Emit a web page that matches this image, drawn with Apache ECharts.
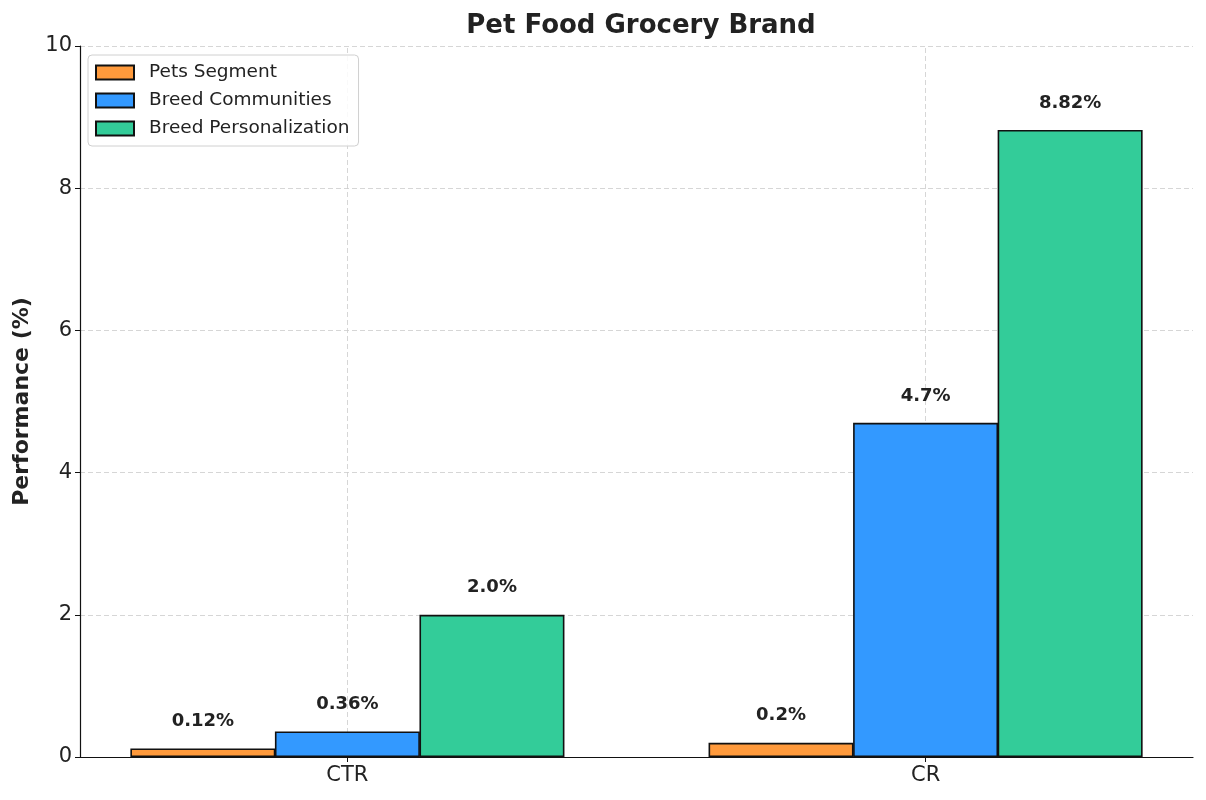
<!DOCTYPE html>
<html>
<head>
<meta charset="utf-8">
<script src="https://cdn.jsdelivr.net/npm/echarts@6/dist/echarts.min.js"></script>
<style>html,body{margin:0;padding:0;background:#fff}#c{width:1206px;height:800px}</style>
</head>
<body>
<div id="c"></div>
<script>
const categories = ['CTR', 'CR'];
const seriesNames = ['Pets Segment', 'Breed Communities', 'Breed Personalization'];
const petsSegment = [0.12, 0.2];
const breedCommunities = [0.36, 4.7];
const breedPersonalization = [2.0, 8.82];
const yTicks = [0, 2, 4, 6, 8, 10];
const colors = ['#FF9A3C', '#3399FF', '#33CC99'];

const allValues = [petsSegment, breedCommunities, breedPersonalization];
const barSlot = 0.25;
const catIdx = categories.map((c, i) => i);
const font = 'DejaVu Sans';
const fmt = v => (Number.isInteger(v) ? v.toFixed(1) : String(v)) + '%';

const series = allValues.map((vals, s) => ({
  name: seriesNames[s],
  type: 'bar',
  barWidth: 145,
  barGap: '-100%',
  data: vals.map((v, i) => [i + (s - 1) * barSlot, v]),
  itemStyle: { color: colors[s], borderColor: '#111', borderWidth: 1.6 },
  label: {
    show: true, position: 'top', distance: 18,
    formatter: p => fmt(p.value[1]),
    fontFamily: font, fontWeight: 'bold', fontSize: 18, color: '#222'
  },
  z: 3
}));
series.push({
  type: 'line', data: [], silent: true, z: 1,
  markLine: {
    silent: true, symbol: 'none', label: { show: false }, z: 1,
    lineStyle: { color: '#cccccc', type: [5, 3], width: 0.8 },
    data: catIdx.map(i => ({ xAxis: i }))
  }
});

const chart = echarts.init(document.getElementById('c'));
chart.setOption({
  animation: false,
  backgroundColor: '#fff',
  title: {
    text: 'Pet Food Grocery Brand', left: 636, top: 8, textAlign: 'center',
    textStyle: { fontFamily: font, fontWeight: 'bold', fontSize: 26, color: '#222' }
  },
  legend: {
    left: 88, top: 55, orient: 'vertical',
    data: seriesNames,
    itemWidth: 38, itemHeight: 14, itemGap: 9,
    padding: [8, 9, 8, 7],
    borderColor: '#d0d0d0', borderWidth: 1, borderRadius: 4,
    backgroundColor: 'rgba(255,255,255,0.85)',
    icon: 'rect',
    textStyle: { fontFamily: font, fontSize: 18.5, color: '#222', padding: [0, 0, 0, 10] }
  },
  grid: { left: 80, right: 13, top: 46, bottom: 43, containLabel: false },
  xAxis: {
    type: 'value',
    min: -0.4625, max: categories.length - 1 + 0.4625,
    axisLine: { show: true, onZero: false, lineStyle: { color: '#111', width: 1.2 } },
    axisTick: { show: true, customValues: catIdx, length: 5, lineStyle: { color: '#111' } },
    axisLabel: {
      customValues: catIdx, formatter: v => categories[Math.round(v)] || '',
      fontFamily: font, fontSize: 21, color: '#222', margin: 8
    },
    splitLine: { show: false }
  },
  yAxis: {
    type: 'value', min: yTicks[0], max: yTicks[yTicks.length - 1], interval: 2,
    name: 'Performance (%)', nameLocation: 'middle', nameGap: 47,
    nameTextStyle: { fontFamily: font, fontWeight: 'bold', fontSize: 22, color: '#222' },
    axisLine: { show: true, onZero: false, lineStyle: { color: '#111', width: 1.2 } },
    axisTick: { show: true, length: 5, lineStyle: { color: '#111' } },
    axisLabel: { fontFamily: font, fontSize: 21, color: '#222', margin: 8 },
    splitLine: { show: true, lineStyle: { color: '#cccccc', type: [5, 3], width: 0.8 } }
  },
  series: series
});
</script>
</body>
</html>
